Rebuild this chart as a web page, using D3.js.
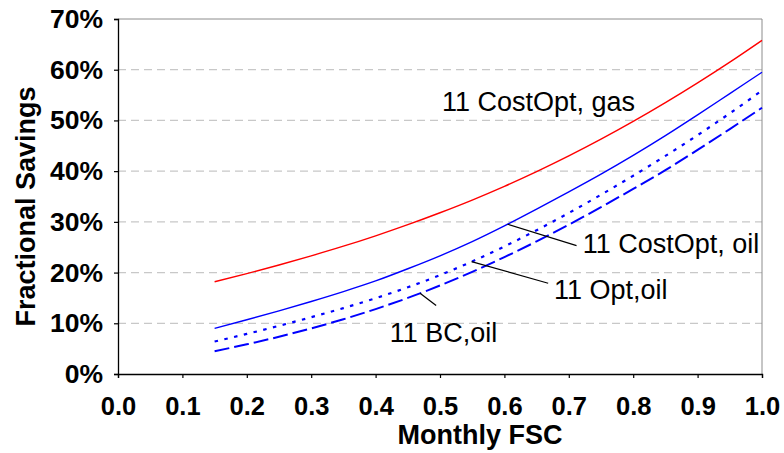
<!DOCTYPE html>
<html>
<head>
<meta charset="utf-8">
<script src="https://cdn.jsdelivr.net/npm/d3@7"></script>
<style>
  html, body { margin: 0; padding: 0; background: #fff; }
  svg { display: block; font-family: "Liberation Sans", Arial, sans-serif; }
</style>
</head>
<body>
<svg id="chart" width="784" height="453"></svg>
<script>
// ---- data ----
const fsc = [0.15, 0.2, 0.25, 0.3, 0.35, 0.4, 0.45, 0.5, 0.55, 0.6, 0.65, 0.7, 0.75, 0.8, 0.85, 0.9, 0.95, 1.0];
const costOptGas = [18.2, 19.8, 21.5, 23.3, 25.2, 27.25, 29.45, 31.8, 34.3, 37.0, 39.9, 43.0, 46.3, 49.8, 53.5, 57.4, 61.5, 65.8];
const costOptOil = [9.0, 10.7, 12.45, 14.3, 16.25, 18.35, 20.75, 23.3, 26.1, 29.2, 32.5, 35.9, 39.4, 43.1, 47.0, 51.1, 55.3, 59.5];
const optOil     = [6.4, 7.9, 9.5, 11.2, 13.0, 14.95, 17.1, 19.5, 22.2, 25.15, 28.35, 31.75, 35.35, 39.1, 43.0, 47.1, 51.4, 55.9];
const bcOil      = [4.5, 5.85, 7.35, 9.0, 10.8, 12.8, 15.0, 17.45, 20.15, 23.05, 26.15, 29.45, 32.9, 36.5, 40.2, 44.2, 48.3, 52.5];
const xTicks = [0.0, 0.1, 0.2, 0.3, 0.4, 0.5, 0.6, 0.7, 0.8, 0.9, 1.0];
const yTicks = [0, 10, 20, 30, 40, 50, 60, 70];
const seriesNames = ["11 CostOpt, gas", "11 CostOpt, oil", "11 Opt,oil", "11 BC,oil"];
// annotation label anchors and leader lines (data units: FSC, %)
const labelX   = [0.503, 0.7215, 0.677, 0.422];
const labelY   = [51.9, 23.9, 14.8, 6.4];
const leadFromX = [null, 0.605, 0.549, 0.469];
const leadToX   = [null, 0.712, 0.668, 0.494];
const leadToY   = [null, 25.3, 17.9, 13.5];

// ---- layout ----
const L = 118, R = 762, T = 19, B = 374;
const svg = d3.select("#chart");

const x = d3.scaleLinear().domain([0, 1]).range([L, R]);
const y = d3.scaleLinear().domain([0, 70]).range([B, T]);

// gridlines
svg.append("g").selectAll("line").data(yTicks.filter(d => d > 0 && d < 70)).join("line")
  .attr("x1", L).attr("x2", R)
  .attr("y1", d => y(d)).attr("y2", d => y(d))
  .attr("stroke", "#c8c8c8").attr("stroke-width", 1.2)
  .attr("stroke-dasharray", "8,5");

// plot border (top/right grey)
svg.append("line").attr("x1", L).attr("x2", R).attr("y1", T).attr("y2", T)
  .attr("stroke", "#8c8c8c").attr("stroke-width", 1);
svg.append("line").attr("x1", R).attr("x2", R).attr("y1", T).attr("y2", B)
  .attr("stroke", "#8c8c8c").attr("stroke-width", 1);

// axes
const xAxis = d3.axisBottom(x).tickValues(xTicks).tickFormat(d3.format(".1f")).tickSizeOuter(0).tickSize(4).tickPadding(19);
const yAxis = d3.axisLeft(y).tickValues(yTicks).tickFormat(d => d + "%").tickSizeOuter(0).tickSize(4).tickPadding(11);

const gx = svg.append("g").attr("transform", `translate(0,${B})`).call(xAxis);
const gy = svg.append("g").attr("transform", `translate(${L},0)`).call(yAxis);
[gx, gy].forEach(g => {
  g.select(".domain").attr("stroke", "#000").attr("stroke-width", 1.3);
  g.selectAll(".tick line").attr("stroke", "#000").attr("stroke-width", 1.2);
  g.selectAll(".tick text").attr("fill", "#000")
    .style("font-family", '"Liberation Sans", Arial, sans-serif')
    .style("font-weight", "bold");
});
gx.selectAll(".tick text").style("font-size", "25.5px").attr("dy", "0.71em");
gy.selectAll(".tick text").style("font-size", "26.5px");

// axis titles
svg.append("text").attr("x", 480).attr("y", 444)
  .attr("text-anchor", "middle")
  .style("font-size", "27px").style("font-weight", "bold")
  .text("Monthly FSC");
svg.append("text")
  .attr("transform", `translate(35,206.5) rotate(-90)`)
  .attr("text-anchor", "middle")
  .style("font-size", "27px").style("font-weight", "bold")
  .text("Fractional Savings");

// series
const series = [
  { vals: costOptGas, color: "#ff0000", dash: null, w: 1.4 },
  { vals: costOptOil, color: "#0000ff", dash: null, w: 1.4 },
  { vals: optOil,     color: "#0000ff", dash: "3.5,6.5", w: 2.2 },
  { vals: bcOil,      color: "#0000ff", dash: "15,5", w: 2.0 }
];
const line = d3.line().x(d => x(d[0])).y(d => y(d[1])).curve(d3.curveMonotoneX);
series.forEach(s => {
  svg.append("path")
    .datum(fsc.map((f, i) => [f, s.vals[i]]))
    .attr("d", line)
    .attr("fill", "none")
    .attr("stroke", s.color)
    .attr("stroke-width", s.w)
    .attr("stroke-dasharray", s.dash);
});

// annotations
function valueAt(vals, fx) {
  return d3.scaleLinear().domain(fsc).range(vals)(fx);
}
seriesNames.forEach((name, i) => {
  if (leadFromX[i] !== null) {
    const fromY = valueAt(series[i].vals, leadFromX[i]);
    svg.append("line")
      .attr("x1", x(leadFromX[i])).attr("y1", y(fromY))
      .attr("x2", x(leadToX[i])).attr("y2", y(leadToY[i]))
      .attr("stroke", "#000").attr("stroke-width", 1.2);
  }
  svg.append("text")
    .attr("x", x(labelX[i])).attr("y", y(labelY[i]))
    .style("font-size", "27px")
    .attr("fill", "#000")
    .text(name);
});
</script>
</body>
</html>
